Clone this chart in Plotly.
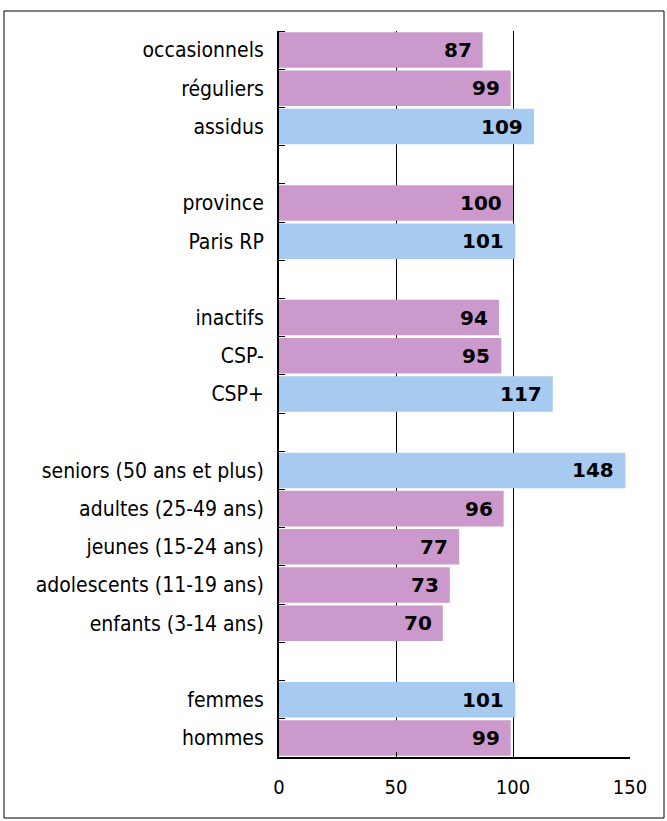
import plotly.graph_objects as go

# ---- data (top to bottom; None = spacer row between groups) ----
categories = ["occasionnels", "réguliers", "assidus", None,
              "province", "Paris RP", None,
              "inactifs", "CSP-", "CSP+", None,
              "seniors (50 ans et plus)", "adultes (25-49 ans)", "jeunes (15-24 ans)",
              "adolescents (11-19 ans)", "enfants (3-14 ans)", None,
              "femmes", "hommes"]
values = [87, 99, 109, None,
          100, 101, None,
          94, 95, 117, None,
          148, 96, 77, 73, 70, None,
          101, 99]
highlight = [False, False, True, None,
             False, True, None,
             False, False, True, None,
             True, False, False, False, False, None,
             True, False]
x_ticks = [0, 50, 100, 150]

PINK = "#CC99CC"
BLUE = "#A6CAF0"
LABEL_FONT = "DejaVu Sans Condensed, DejaVu Sans, sans-serif"

pos = list(range(len(categories)))
bar_y = [p for p, c in zip(pos, categories) if c is not None]
bar_x = [v for v, c in zip(values, categories) if c is not None]
bar_c = [BLUE if h else PINK for h, c in zip(highlight, categories) if c is not None]
lab_t = [c for c in categories if c is not None]

fig = go.Figure()
fig.add_trace(go.Bar(
    x=bar_x, y=bar_y, orientation="h",
    marker=dict(color=bar_c, line=dict(width=0)),
    hoverinfo="skip", showlegend=False,
))

for xv, yv in zip(bar_x, bar_y):
    fig.add_annotation(x=xv, y=yv, text=f"<b>{xv}</b>", showarrow=False,
                       xanchor="right", yanchor="middle", xshift=-9,
                       font=dict(family="DejaVu Sans", size=20, color="black"))

W, H = 667, 821
L, R, T, B = 279, 37, 31, 64
pw, ph = W - L - R, H - T - B

def px_x(p):
    return (p - L) / pw

def px_y(p):
    return (H - B - p) / ph

fig.add_shape(type="rect", xref="paper", yref="paper",
              x0=px_x(4), x1=px_x(664), y0=px_y(818), y1=px_y(11),
              line=dict(color="black", width=1), fillcolor="rgba(0,0,0,0)", layer="below")

fig.update_layout(
    width=W, height=H,
    margin=dict(l=L, r=R, t=T, b=B, autoexpand=False),
    paper_bgcolor="white", plot_bgcolor="white",
    bargap=0.07,
    font=dict(family=LABEL_FONT, size=21, color="black"),
)
fig.update_xaxes(
    range=[0, 150], tickvals=x_ticks, ticktext=[str(t) for t in x_ticks],
    showgrid=True, gridcolor="black", gridwidth=1,
    showline=True, linecolor="black", linewidth=2,
    ticks="inside", ticklen=5, tickcolor="black", tickwidth=1,
    ticklabelstandoff=11, zeroline=False,
    tickfont=dict(family=LABEL_FONT, size=20),
)
fig.update_yaxes(
    range=[len(categories) - 0.5, -0.5],
    tickvals=bar_y, ticktext=lab_t, ticks="",
    showgrid=False, zeroline=False,
    showline=True, linecolor="black", linewidth=2,
    ticklabelstandoff=9,
    minor=dict(ticks="inside", ticklen=6, tickcolor="black", tickwidth=1,
               tickvals=[p - 0.5 for p in pos] + [len(pos) - 0.5], showgrid=False),
    tickfont=dict(family=LABEL_FONT, size=21),
)

fig.write_html("out.html", config={"displayModeBar": False},
               post_script="document.body.style.margin='0';document.body.style.overflow='hidden';")
